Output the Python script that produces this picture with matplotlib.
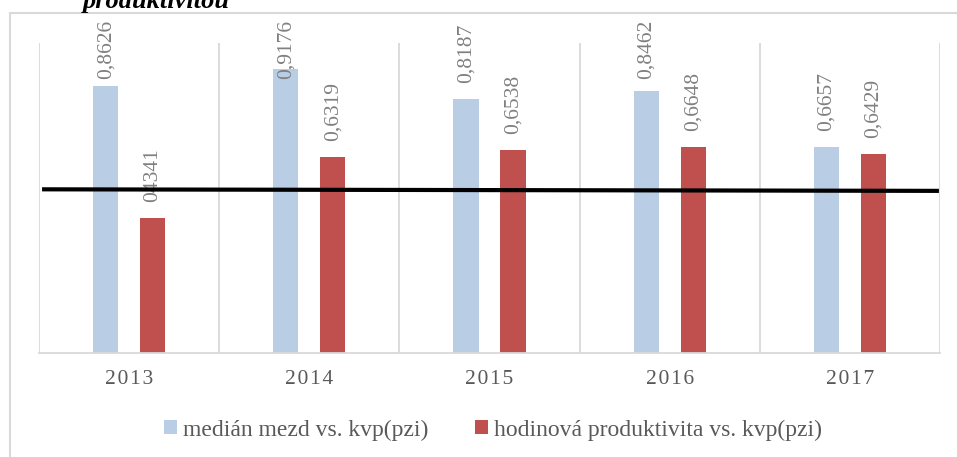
import numpy as np
import matplotlib
matplotlib.use("Agg")
import matplotlib.pyplot as plt
from matplotlib.patches import Rectangle

# data
roky = ["2013", "2014", "2015", "2016", "2017"]
median_mezd = [0.8626, 0.9176, 0.8187, 0.8462, 0.6657]
produktivita = [0.4341, 0.6319, 0.6538, 0.6648, 0.6429]
popisky_median = ["0,8626", "0,9176", "0,8187", "0,8462", "0,6657"]
popisky_produktivita = ["04341", "0,6319", "0,6538", "0,6648", "0,6429"]
cara = [0.528, 0.523]  # black reference line, start and end level

plt.rcParams["font.family"] = ["Liberation Serif", "DejaVu Serif"]

fig = plt.figure(figsize=(9.57, 4.57), dpi=100)
ax = fig.add_axes([39 / 957, 1 - 353 / 457, 901 / 957, 310 / 457])

x = np.arange(len(roky))
w = 0.14
b1 = ax.bar(x - 0.13, median_mezd, w, color="#b9cde5", label="medián mezd vs. kvp(pzi)", zorder=2)
b2 = ax.bar(x + 0.13, produktivita, w, color="#c0504d", label="hodinová produktivita vs. kvp(pzi)", zorder=2)

ax.set_xlim(-0.5, len(roky) - 0.5)
ax.set_ylim(0, 1)

# value labels, rotated; tall ones are pushed down under the chart top
horni = 1.074
delka = 0.187
for bars, popisky in [(b1, popisky_median), (b2, popisky_produktivita)]:
    for r, t in zip(bars, popisky):
        cx = r.get_x() + r.get_width() / 2
        v = r.get_height()
        if v + 0.052 + delka > horni:
            ax.text(cx, horni, t, rotation=90, ha="center", va="top",
                    fontsize=15.5, color="#808080", clip_on=False)
        else:
            ax.text(cx, v + 0.052, t, rotation=90, ha="center", va="bottom",
                    fontsize=15.5, color="#808080", clip_on=False)

# black line across the chart
ax.plot([-0.483, len(roky) - 0.506], cara, color="black", lw=3, zorder=3,
        solid_capstyle="butt")

# grid between categories
for g in np.arange(-0.5, len(roky), 1):
    ax.axvline(g, color="#d9d9d9", lw=1.3, zorder=1)

for s in ["top", "left", "right"]:
    ax.spines[s].set_visible(False)
ax.spines["bottom"].set_color("#d9d9d9")
ax.spines["bottom"].set_linewidth(1.3)
ax.set_yticks([])
ax.set_xticks(x)
ax.set_xticklabels(["\u200a".join(r) for r in roky], fontsize=15.5, color="#595959")
ax.tick_params(axis="x", length=0, pad=12)

leg = fig.legend(loc="center", bbox_to_anchor=(493 / 957, 1 - 430 / 457), ncol=2,
                 frameon=False, fontsize=17, handlelength=0.55, handleheight=0.55,
                 handletextpad=0.25, columnspacing=2.0)
for t in leg.get_texts():
    t.set_color("#595959")

# outer chart border
fig.patches.append(Rectangle((10 / 957, -0.1), 1.2, 1.1 - 13 / 457,
                             transform=fig.transFigure, fill=False,
                             edgecolor="#d9d9d9", lw=1.5))

# cut-off title above the chart
fig.text(83 / 957, 1 - 8 / 457, "produktivitou", fontsize=19, fontweight="bold",
         fontstyle="italic", va="baseline", ha="left", color="black")

fig.savefig("out.png", dpi=100)
